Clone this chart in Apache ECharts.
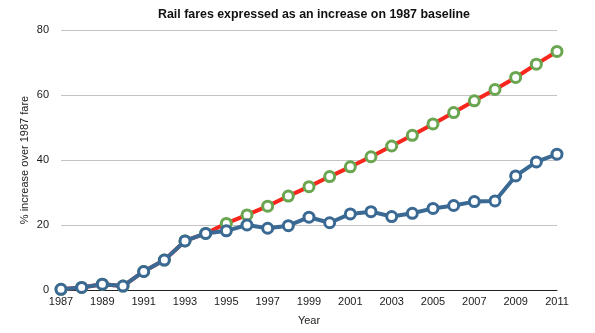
<!DOCTYPE html>
<html>
<head>
<meta charset="utf-8">
<script src="https://cdn.jsdelivr.net/npm/echarts@6/dist/echarts.min.js"></script>
<style>
  html, body { margin: 0; padding: 0; background: #ffffff; }
  #chart { width: 595px; height: 333px; }
</style>
</head>
<body>
<div id="chart"></div>
<script>
// Years on the x axis
const years = ['1987','1988','1989','1990','1991','1992','1993','1994','1995','1996','1997','1998',
  '1999','2000','2001','2002','2003','2004','2005','2006','2007','2008','2009','2010','2011'];

// Fare increase tracking the 1987 baseline trend (%)
const baselineTrend = [0.2, 0.8, 1.8, 1.2, 5.7, 9.2, 15.1, 17.4, 20.5, 23.1, 25.8, 28.9,
  31.8, 34.9, 37.9, 41.0, 44.3, 47.6, 51.1, 54.6, 58.2, 61.7, 65.4, 69.5, 73.4];

// Actual rail fare increase over 1987 (%)
const actualFares = [0.2, 0.8, 1.8, 1.2, 5.7, 9.2, 15.1, 17.4, 18.2, 20.0, 19.0, 19.8,
  22.4, 20.7, 23.4, 24.1, 22.6, 23.6, 25.1, 26.0, 27.2, 27.4, 35.1, 39.4, 41.8];

const yTicks = { min: 0, max: 80, interval: 20 };

const font = 'Liberation Sans, Arial, Helvetica, sans-serif';
const chart = echarts.init(document.getElementById('chart'), null, { renderer: 'canvas' });

chart.setOption({
  animation: false,
  backgroundColor: '#ffffff',
  title: {
    text: 'Rail fares expressed as an increase on 1987 baseline',
    left: 309, top: 4, textAlign: 'center',
    textStyle: { fontFamily: font, fontSize: 12.4, fontWeight: 'bold', color: '#111' }
  },
  grid: { left: 61, right: 38, top: 30, bottom: 43, containLabel: false },
  xAxis: {
    type: 'category',
    data: years,
    boundaryGap: false,
    name: 'Year',
    nameLocation: 'middle',
    nameGap: 25,
    nameMoveOverlap: false,
    nameTextStyle: { fontFamily: font, fontSize: 11, color: '#222' },
    axisLine: { show: true, lineStyle: { color: '#222', width: 1 } },
    axisTick: { show: false },
    axisLabel: { interval: 1, margin: 6, fontFamily: font, fontSize: 11, color: '#1a1a1a' },
    splitLine: { show: false }
  },
  yAxis: {
    type: 'value',
    min: yTicks.min, max: yTicks.max, interval: yTicks.interval,
    name: '% increase over 1987 fare',
    nameLocation: 'middle',
    nameGap: 31,
    nameMoveOverlap: false,
    nameRotate: 90,
    nameTextStyle: { fontFamily: font, fontSize: 11, color: '#222' },
    axisLine: { show: false },
    axisTick: { show: false },
    axisLabel: { margin: 12, fontFamily: font, fontSize: 11, color: '#1a1a1a' },
    splitLine: { show: true, lineStyle: { color: '#c4c4c4', width: 1 } }
  },
  series: [
    {
      name: 'Baseline trend',
      type: 'line',
      data: baselineTrend,
      symbol: 'circle',
      symbolSize: 10,
      lineStyle: { color: '#f8261c', width: 4 },
      itemStyle: { color: '#ffffff', borderColor: '#6aa550', borderWidth: 3 },
      z: 2
    },
    {
      name: 'Actual fares',
      type: 'line',
      data: actualFares,
      symbol: 'circle',
      symbolSize: 10,
      lineStyle: { color: '#3a6994', width: 4 },
      itemStyle: { color: '#ffffff', borderColor: '#3a6994', borderWidth: 3 },
      z: 3
    }
  ]
});
</script>
</body>
</html>
